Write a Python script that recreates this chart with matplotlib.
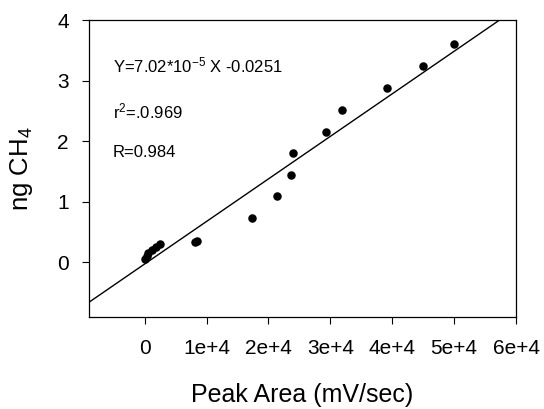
import numpy as np
import matplotlib
matplotlib.use("Agg")
import matplotlib.pyplot as plt

plt.rcParams["font.family"] = ["Liberation Sans", "DejaVu Sans"]
plt.rcParams["mathtext.fontset"] = "custom"
plt.rcParams["mathtext.rm"] = "Liberation Sans"
plt.rcParams["mathtext.it"] = "Liberation Sans"
plt.rcParams["mathtext.default"] = "regular"

# calibration data
peak_area = [0, 300, 600, 1100, 1800, 2500, 8100, 8400, 17300, 21400,
             23700, 24000, 29300, 31800, 39200, 45000, 50000]
ng_ch4 = [0.05, 0.10, 0.16, 0.21, 0.26, 0.31, 0.33, 0.36, 0.74, 1.09,
          1.45, 1.80, 2.16, 2.52, 2.88, 3.24, 3.60]

slope = 7.02e-5
intercept = -0.0251

xticks = [0, 10000, 20000, 30000, 40000, 50000, 60000]
xtick_labels = ["0", "1e+4", "2e+4", "3e+4", "4e+4", "5e+4", "6e+4"]
yticks = [0, 1, 2, 3, 4]

fig = plt.figure(figsize=(5.44, 4.09), dpi=100)
ax = fig.add_axes([0.1636, 0.225, 0.785, 0.726])

xlim = (-9000, 60000)
ylim = (-0.9, 4)

xl = np.array(xlim)
ax.plot(xl, slope * xl + intercept, color="black", lw=1.0)
ax.scatter(peak_area, ng_ch4, s=26, color="black", zorder=3)

ax.set_xlim(*xlim)
ax.set_ylim(*ylim)
ax.set_xticks(xticks)
ax.set_xticklabels(xtick_labels)
ax.set_yticks(yticks)
ax.tick_params(direction="out", length=5, width=0.8, labelsize=15)
ax.tick_params(axis="x", pad=10.5)
ax.tick_params(axis="y", pad=9.5)
for sp in ax.spines.values():
    sp.set_linewidth(0.9)

ax.set_xlabel("Peak Area (mV/sec)", fontsize=18, labelpad=18)
ax.set_ylabel("ng CH$_4$", fontsize=18.5, labelpad=16)

ax.text(0.056, 0.823, "Y=7.02*10$^{-5}$ X -0.0251", transform=ax.transAxes,
        fontsize=12, va="baseline")
ax.text(0.056, 0.669, "r$^2$=.0.969", transform=ax.transAxes,
        fontsize=12, va="baseline")
ax.text(0.056, 0.538, "R=0.984", transform=ax.transAxes,
        fontsize=12, va="baseline")

fig.savefig("out.png", dpi=100)
